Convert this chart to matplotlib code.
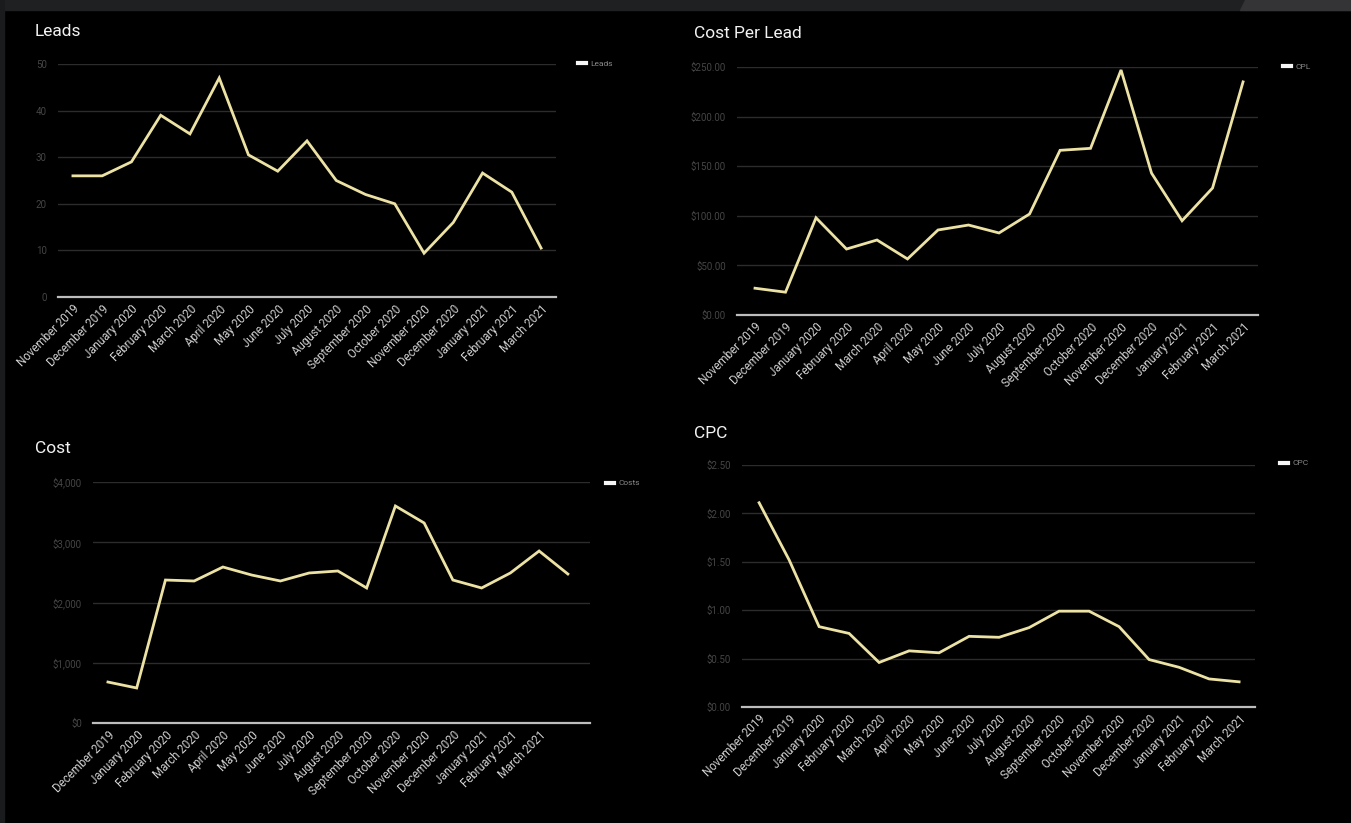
import matplotlib
matplotlib.use('Agg')
import matplotlib.pyplot as plt
from matplotlib.patches import Rectangle, Polygon

plt.rcParams['font.family'] = ['Roboto', 'DejaVu Sans']

W, H = 1351, 823

months = ['November 2019', 'December 2019', 'January 2020', 'February 2020',
          'March 2020', 'April 2020', 'May 2020', 'June 2020', 'July 2020',
          'August 2020', 'September 2020', 'October 2020', 'November 2020',
          'December 2020', 'January 2021', 'February 2021', 'March 2021']

# the Cost chart shows its labels one month late and the last one is missing
cost_labels = months[1:] + ['']

leads = [26, 26, 29, 39, 35, 47, 30.5, 27, 33.5, 25, 22, 20, 9.4, 16, 26.6, 22.5, 10.5]
cost_per_lead = [27, 23, 98, 66.5, 75.6, 56.5, 85.7, 90.7, 82.7, 101.8,
                 166, 168, 247, 143, 95, 128, 235]
cost = [680, 581, 2373, 2357, 2589, 2456, 2357, 2490, 2523, 2241,
        3602, 3320, 2373, 2241, 2490, 2855, 2473]
cpc = [2.11, 1.52, 0.83, 0.76, 0.46, 0.58, 0.56, 0.73, 0.72, 0.82,
       0.99, 0.99, 0.83, 0.49, 0.41, 0.29, 0.26]

leads_ticks = [0, 10, 20, 30, 40, 50]
cpl_ticks = [0, 50, 100, 150, 200, 250]
cost_ticks = [0, 1000, 2000, 3000, 4000]
cpc_ticks = [0, 0.5, 1.0, 1.5, 2.0, 2.5]

LINE = '#ece2a4'
GRID = '#2c2c2c'
BASE = '#bdbdbd'


def px_axes(fig, x0, x1, y0, y1):
    return fig.add_axes([x0 / W, 1 - y1 / H, (x1 - x0) / W, (y1 - y0) / H])


def draw_chart(fig, rect, values, labels, ticks, tick_fmt, xlim, title, title_xy,
               legend_name, legend_xy):
    ax = px_axes(fig, *rect)
    ax.set_facecolor('black')
    x = list(range(len(values)))
    ax.plot(x, values, color=LINE, linewidth=2.0, solid_joinstyle='miter',
            label=legend_name, zorder=3)
    ax.set_xlim(*xlim)
    ax.set_ylim(ticks[0], ticks[-1])
    ax.set_yticks(ticks)
    ax.set_yticklabels([tick_fmt(t) for t in ticks], color='#454545', fontsize=7)
    ax.set_xticks(x)
    ax.set_xticklabels(labels, rotation=45, ha='right', rotation_mode='anchor',
                       color='#cfcfcf', fontsize=8.3)
    ax.tick_params(length=0, pad=4)
    ax.tick_params(axis='y', pad=8)
    for t in ticks[1:]:
        ax.axhline(t, color=GRID, linewidth=1, zorder=1)
    for s in ['top', 'right', 'left']:
        ax.spines[s].set_visible(False)
    ax.spines['bottom'].set_color(BASE)
    ax.spines['bottom'].set_linewidth(1.6)
    fig.text(title_xy[0] / W, 1 - title_xy[1] / H, title, color='#f2f2f2',
             fontsize=12.5, va='center', ha='left')
    ax.legend(loc='center left', bbox_to_anchor=(legend_xy[0] / W, 1 - legend_xy[1] / H),
              bbox_transform=fig.transFigure, frameon=False, fontsize=6,
              labelcolor='#8a8a8a', handlelength=0.9, handletextpad=0.6,
              borderpad=0, borderaxespad=0)
    leg = ax.get_legend()
    for h in leg.legend_handles:
        h.set_color('#f5f5f5')
        h.set_linewidth(3)
    return ax


fig = plt.figure(figsize=(W / 100, H / 100), dpi=100)
fig.patch.set_facecolor('black')

# top browser band
fig.patches.append(Rectangle((0, 1 - 10 / H), 1, 10 / H, transform=fig.transFigure,
                             color='#1f2021', zorder=0))
fig.patches.append(Polygon([(1245 / W, 1), (1 , 1), (1, 1 - 10 / H), (1240 / W, 1 - 10 / H)],
                           closed=True, transform=fig.transFigure, color='#343335', zorder=0))
fig.patches.append(Rectangle((0, 0), 4 / W, 1, transform=fig.transFigure,
                             color='#1a1b1c', zorder=0))

draw_chart(fig, (58, 556, 64, 297), leads, months, leads_ticks, lambda t: f'{t}',
           (-0.51, 16.51), 'Leads', (35, 31), 'Leads', (578, 64))
draw_chart(fig, (737, 1258, 67, 315), cost_per_lead, months, cpl_ticks,
           lambda t: f'${t:.2f}', (-0.59, 16.49), 'Cost Per Lead', (694, 33), 'CPL', (1283, 67))
draw_chart(fig, (93, 590, 482, 723), cost, cost_labels, cost_ticks,
           lambda t: f'${t:,.0f}', (-0.52, 16.77), 'Cost', (35, 449), 'Costs', (606, 483))
draw_chart(fig, (742, 1255, 465, 707), cpc, months, cpc_ticks,
           lambda t: f'${t:.2f}', (-0.57, 16.53), 'CPC', (694, 433), 'CPC', (1280, 463))

fig.savefig('out.png', dpi=100, facecolor=fig.get_facecolor())
